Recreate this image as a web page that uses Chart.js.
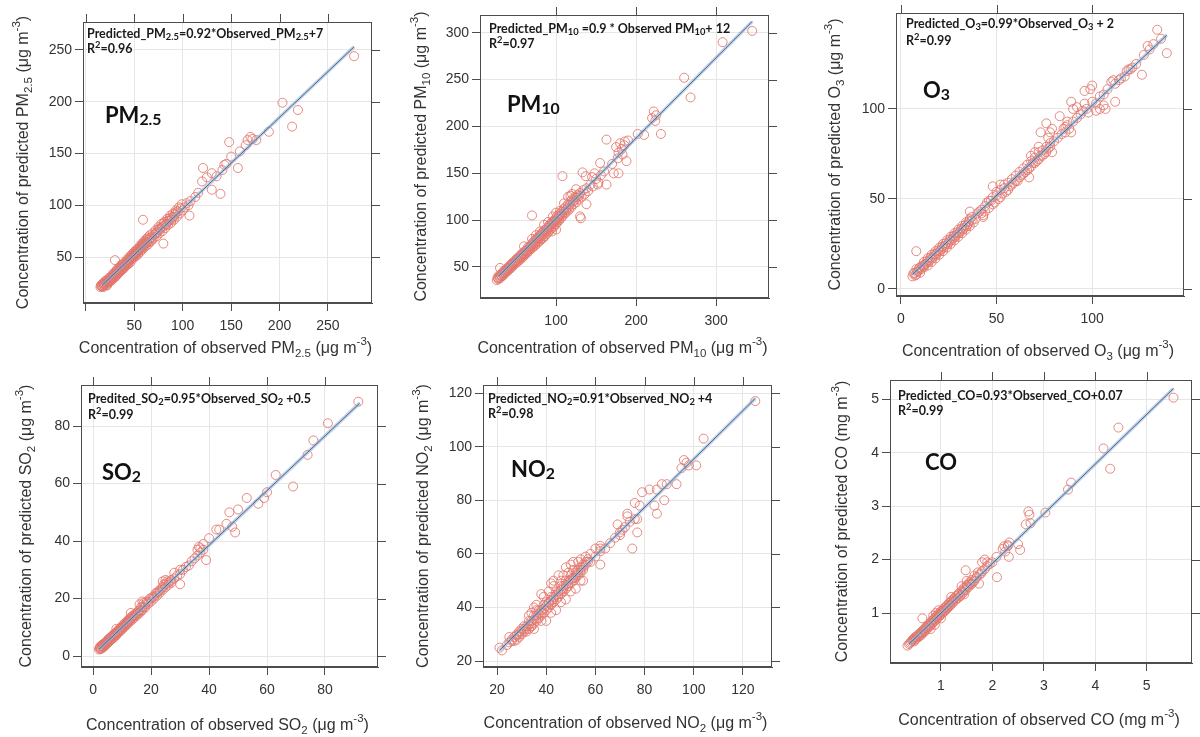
<!DOCTYPE html>
<html>
<head>
<meta charset="utf-8">
<script src="https://cdn.jsdelivr.net/npm/chart.js@4.4.1/dist/chart.umd.min.js"></script>
<style>
  html, body { margin: 0; padding: 0; background: #fff; }
  #wrap { position: relative; width: 1200px; height: 737px; overflow: hidden; }
  canvas { position: absolute; }
</style>
</head>
<body>
<div id="wrap">
  <canvas id="c1" width="400" height="368" style="left:0;top:0"></canvas>
  <canvas id="c2" width="400" height="368" style="left:400px;top:0"></canvas>
  <canvas id="c3" width="400" height="368" style="left:800px;top:0"></canvas>
  <canvas id="c4" width="400" height="369" style="left:0;top:368px"></canvas>
  <canvas id="c5" width="400" height="369" style="left:400px;top:368px"></canvas>
  <canvas id="c6" width="400" height="369" style="left:800px;top:368px"></canvas>
</div>
<script>
// ---- data: [observed, predicted] ----
const pm25Points = [
  [15,21],[16,23],[17,22],[18,24],[18,21],[19,25],[20,23],[20,27],[21,25],[22,27],[22,23],[23,28],[24,26],[24,30],[25,29],[26,31],[26,27],[27,32],[28,30],[28,34],[29,33],[30,35],[30,31],[31,36],[32,34],[32,38],[33,37],[34,39],[34,35],[35,40],[36,37],[36,42],[37,41],[38,43],[38,38],[39,42],[40,45],[40,41],[41,43],[42,47],[42,42],[43,46],[44,49],[44,44],[45,47],[46,51],[46,45],[47,49],[48,53],[48,48],[49,51],[50,55],[50,50],[51,53],[52,57],[52,51],[53,55],[54,58],[54,53],[55,57],[56,61],[56,55],[57,59],[58,63],[58,57],[59,61],[60,65],[60,59],[61,63],[62,67],[62,61],[63,64],[64,69],[64,62],[65,67],[66,71],[67,65],[68,69],[69,73],[70,68],[71,72],[72,76],[73,70],[74,74],[75,79],[76,73],[77,77],[78,82],[79,75],[80,80],[81,84],[82,78],[83,82],[84,87],[85,81],[86,85],[87,90],[88,83],[89,88],[90,92],[91,86],[92,91],[93,95],[94,89],[95,94],[96,98],[97,92],[98,97],[99,101],[100,95],[102,98],[104,102],[106,100],[108,104],
  [15.5,22.5],[16.5,21.5],[17.5,24.5],[18.5,22.5],[19.5,23.5],[20.5,25.5],[21.5,22.5],[21.5,27.5],[22.5,25],[23.5,26],[24.5,28],[25.5,27],[26.5,29.5],[27.5,28.5],[28.5,31.5],[29.5,30],[30.5,33],[31.5,32],[32.5,35.5],[33.5,34],[34.5,37],[35.5,36],[36.5,39.5],[37.5,38],[38.5,40.5],[39.5,39.5],[40.5,43],[41.5,44.5],[42.5,44],[43.5,43],[44.5,46.5],[45.5,49],[46.5,48],[47.5,51],[48.5,50],[49.5,53],[50.5,52],[51.5,55],[52.5,54],[53.5,56.5],[54.5,55.5],[55.5,59],[56.5,58],[57.5,61],[58.5,59.5],[59.5,63],[60.5,62],[61.5,65],[62.5,63.5],[63.5,67],[65.5,64.5],[66.5,68.5],[68.5,67],[70.5,71.5],[72.5,73],[74.5,76.5],[76.5,78],[78.5,78.5],[80.5,82.5],[82.5,81],[84.5,85],[86.5,87.5],[88.5,86],[90.5,89],[92.5,93],
  [277,244],[203,199],[219,192],[213,176],[189,171],[176,163],[167,163],[170,166],[172,164],[148,161],[150,147],[159,152],[157,136],[139,111],[130,115],[121,136],[120,123],[130,131],[135,128],[141,134],[143,139],[107,90],[116,112],[59,86],[80,63],[30,47],[113,108],[125,127],[145,140],[165,158]
];
const pm25Line = [[17,23],[277,253]];
const pm25XTicks = [0,50,100,150,200,250];
const pm25XLabels = ['','50','100','150','200','250'];
const pm25YTicks = [50,100,150,200,250];
const pm25YLabels = ['50','100','150','200','250'];

const pm10Points = [
  [26,36],[27,39],[28,37],[29,41],[30,38],[31,42],[32,40],[33,44],[34,41],[35,46],[36,43],[37,47],[38,45],[39,49],[40,46],[41,50],[42,48],[43,52],[44,49],[45,54],[46,51],[47,55],[48,53],[49,57],[50,54],[51,59],[52,56],[53,60],[54,57],[55,62],[56,59],[57,64],[58,60],[59,65],[60,62],[61,67],[62,64],[63,68],[64,65],[65,71],[66,67],[67,72],[68,69],[69,74],[70,70],[71,76],[72,72],[73,78],[74,73],[75,80],[76,75],[77,81],[78,77],[79,83],[80,78],[81,85],[82,80],[83,87],[84,81],[85,89],[86,83],[87,90],[88,85],[89,92],[90,87],[91,94],[92,89],[93,96],[94,91],[95,98],[96,92],[97,99],[98,94],[99,101],[100,96],[101,104],[102,98],[103,105],[104,100],[105,107],[106,102],[107,109],[108,104],[110,112],[111,107],[112,114],[113,109],[115,117],[116,111],[118,120],[119,114],[120,122],[122,117],[124,125],[125,119],[127,127],[128,122],[130,129],[132,125],[134,132],[136,128],[138,134],[140,131],[143,138],[146,136],[150,144],[153,140],[156,148],[120,128],[115,125],[60,72],[70,80],[85,95],[95,88],[100,90],
  [27.5,38],[29.5,39.5],[31.5,40.5],[33.5,42.5],[35.5,44],[37.5,46],[39.5,47.5],[41.5,49],[43.5,51],[45.5,52.5],[47.5,54],[49.5,56],[51.5,57.5],[53.5,59],[55.5,60.5],[57.5,62],[59.5,63.5],[61.5,65.5],[63.5,67],[65.5,69],[67.5,70.5],[69.5,72.5],[71.5,74],[73.5,75.5],[75.5,77.5],[77.5,79.5],[79.5,81],[81.5,83],[83.5,84.5],[85.5,86.5],[87.5,88],[89.5,90],[91.5,92],[93.5,93.5],[95.5,95.5],[97.5,97.5],[99.5,99],[101.5,101],[103.5,103],[105.5,105],[107.5,106.5],[109.5,108.5],[112.5,111],[114.5,113],[117,116],[121,120],[123,121],[126,124],[129,126],[96,104],[90,98],[105,110],[110,118],[80,88],[75,84],[100,108],[118,126],[125,133],
  [345,302],[308,290],[260,252],[268,231],[222,216],[225,212],[220,209],[224,206],[231,192],[210,191],[202,192],[163,186],[188,163],[178,150],[172,150],[155,161],[108,147],[133,151],[137,147],[163,138],[138,117],[130,104],[131,102],[70,105],[30,49],[175,178],[178,172],[180,182],[182,176],[185,180],[177,166],[183,170],[170,160],[190,185],[186,184],[148,150],[145,146],[160,152],[152,138]
];
const pm10Line = [[28,40],[345,312]];
const pm10XTicks = [100,200,300];
const pm10XLabels = ['100','200','300'];
const pm10YTicks = [50,100,150,200,250,300];
const pm10YLabels = ['50','100','150','200','250','300'];

const o3Points = [
  [6,7],[7,9],[8,8],[8,11],[9,10],[10,12],[10,9],[11,13],[12,12],[12,15],[13,14],[14,13],[14,17],[15,16],[16,15],[16,19],[17,18],[18,17],[18,21],[19,20],[20,19],[20,23],[21,22],[22,21],[22,25],[23,24],[24,23],[24,27],[25,26],[26,25],[26,29],[27,28],[28,27],[28,31],[29,30],[30,29],[30,33],[31,32],[32,31],[32,35],[33,34],[34,33],[34,37],[35,36],[36,35],[36,39],[37,38],[38,37],[40,42],[42,44],[43,41],[44,46],[45,48],[46,45],[47,49],[48,51],[49,48],[50,52],[51,50],[52,55],[53,53],[54,56],[55,54],[56,59],[57,57],[58,61],[59,59],[60,63],[61,60],[62,65],[63,63],[64,67],[65,65],[66,69],[67,67],[68,71],[69,70],[70,73],[71,71],[72,76],[73,74],[74,77],[75,75],[76,79],[77,78],[78,81],[80,82],[82,84],[84,86],[85,89],[86,87],[87,91],[88,89],[90,93],[92,95],[94,97],[95,99],[97,100],[98,98],[100,104],[102,103],[104,107],[106,108],[108,111],[112,114],[115,117],[118,121],[120,122],[123,125],[127,130],[130,133],[132,136],
  [6.5,8.5],[7.5,7.5],[8.5,9.5],[9.5,11.5],[10.5,11],[11.5,12.5],[12.5,13.5],[13.5,15.5],[14.5,15],[15.5,17.5],[16.5,17],[17.5,19.5],[18.5,19],[19.5,21.5],[20.5,21],[21.5,23.5],[22.5,23],[23.5,25.5],[24.5,25],[25.5,27.5],[26.5,27],[27.5,29.5],[28.5,29],[29.5,31.5],[30.5,31],[31.5,33.5],[32.5,33],[33.5,35.5],[34.5,35],[35.5,37.5],[37,40],[39,39],[41,43],[44,43],[46,49],[48,47],[50,54],[52,51],[54,58],[56,55],[58,58],[60,60],[62,62],[64,64],[66,66],[68,68],[70,70],[72,72],[74,74],[76,76],[78,79],[70,76],[72,79],[68,74],
  [134,144],[139,131],[129,135],[136,139],[126,119],[119,122],[121,123],[117,118],[111,116],[110,115],[114,116],[112,104],[106,102],[104,100],[102,99],[107,100],[100,113],[99,111],[96,110],[89,104],[90,100],[92,101],[96,103],[89,87],[83,96],[87,93],[86,90],[76,92],[79,89],[78,87],[73,87],[77,84],[79,76],[67,62],[52,58],[48,57],[42,42],[43,40],[36,43],[8,21]
];
const o3Line = [[6,8],[139,141]];
const o3XTicks = [0,50,100];
const o3XLabels = ['0','50','100'];
const o3YTicks = [0,50,100];
const o3YLabels = ['0','50','100'];

const so2Points = [
  [2,2.3],[2.3,3],[2.6,2.4],[3,3.5],[3.2,2.8],[3.5,4],[3.8,3.3],[4,4.5],[4.3,3.8],[4.6,5],[5,4.5],[5.2,5.8],[5.5,5],[5.8,6.3],[6,5.5],[6.3,6.8],[6.6,6],[7,7.5],[7.3,6.6],[7.6,8],[8,7.3],[8.3,8.6],[8.6,8],[9,9.5],[9.3,8.6],[9.6,10],[10,9.3],[10.3,10.8],[10.6,10],[11,11.5],[11.3,10.6],[11.6,12],[12,11.3],[12.3,12.8],[12.6,12],[13,13.5],[13.3,12.5],[13.6,14],[14,13.2],[14.5,14.8],[15,14],[15.5,15.6],[16,15],[16.5,17],[17,16],[17.5,18.5],[18,17],[18.5,19],[19,18.2],[19.5,20],[20,19],[20.5,20.5],[21,20],[21.5,21.8],[22,21],[22.5,22.5],[23,22],[23.5,23.5],[24,23],[24.5,25],[25,24],[25.5,26],[26,24.8],[26.5,26],[27,25.5],[28,27],[29,28],[30,28.5],[31,30],[32,31],[33,31.5],[34,33],[35,34],[36,35],[37,36],[16,18],[17,19],[24,26],[25,26.5],[13,15],[8,9.5],
  [2.2,2.7],[2.5,3.4],[2.8,2.9],[3.1,3.9],[3.4,3.3],[3.7,4.3],[4.1,3.9],[4.4,4.9],[4.8,4.4],[5.1,5.4],[5.4,6],[5.7,5.4],[6.1,6.4],[6.4,5.9],[6.8,7.2],[7.1,6.9],[7.5,7.6],[7.8,7.3],[8.2,8.3],[8.5,8.3],[8.9,8.9],[9.2,9.1],[9.6,9.4],[10,10.2],[10.4,10.3],[10.8,10.6],[11.2,11.1],[11.6,11.4],[12,12.2],[12.5,12.3],[13,12.9],[13.5,13.4],[14,14],[14.5,14.1],[15,14.9],[15.5,14.8],[16,15.9],[16.5,15.7],[17,17],[17.5,16.9],[18,18],[19,18.8],[20,20],[21,20.8],[22,22],[23,22.8],[24,24],[25,25],[26,25.5],[27,26.5],
  [91.5,88.5],[81,81],[76,75],[74,70],[69,59],[63,63],[60,57],[59,55],[57,53],[53,55],[50,51],[47,50],[48,45],[49,43],[46,46],[43.5,44],[40,41],[39,33.4],[36,37],[38,37],[38,39],[30,25],[30,30],[28,29],[36.5,38],[37,37.5],[42.5,44]
];
const so2Line = [[2,2.4],[92,88]];
const so2XTicks = [0,20,40,60,80];
const so2XLabels = ['0','20','40','60','80'];
const so2YTicks = [0,20,40,60,80];
const so2YLabels = ['0','20','40','60','80'];

const no2Points = [
  [22,24],[24,26],[25,27],[26,27.5],[27,29],[28,28],[28,30],[29,31],[29,29],[30,32],[30,30],[31,33],[31,31],[32,33],[32,31],[33,35],[33,32],[34,35],[34,33],[35,37],[35,34],[36,37],[36,35],[37,39],[37,36],[38,39],[38,37],[39,41],[39,38],[40,42],[40,39],[41,42],[41,40],[42,44],[42,41],[43,44],[43,42],[44,46],[44,43],[45,46],[45,44],[46,48],[46,45],[47,48],[47,46],[48,50],[48,47],[49,50],[49,48],[50,52],[50,49],[51,51],[51,50],[52,53],[52,51],[53,53],[53,52],[54,55],[54,53],[55,55],[55,54],[56,56],[57,57],[58,57],[60,59],[62,61],[64,62],[66,64],[68,66],[70,68],[72,70],[74,72],[38,45],[42,49],[45,52],[48,55],[50,56],[40,35],[44,39],[48,43],[52,47],[55,50],[35,40],[33,37],[46,50],[54,58],[56,59],
  [26,28],[27,27.5],[28,29.5],[29,30],[30,31],[31,32],[32,32],[33,33.5],[34,34],[35,35.5],[36,36],[37,37.5],[38,38],[39,39.5],[40,40.5],[41,41.5],[42,42.5],[43,43],[44,44.5],[45,45],[46,46.5],[47,47],[48,48.5],[49,49],[50,50.5],[51,51],[52,52],[53,54],[54,54],[55,56],[56,57],[57,58],[39,44],[41,46],[43,48],[47,52],[49,53],[51,54],[53,57],[38,35],[42,38],[46,42],[50,46],[54,50],[36,39],[34,38],[58,60],[60,62],
  [125,117],[104,103],[101,93],[96,95],[97,94],[95,92],[98,93],[93,86],[87,86],[89,86],[88,80],[84,78],[85,75],[85,84],[82,84],[79,83],[77,73],[76,73],[76,79],[78,78],[77,68],[75,62],[73,74],[73,75],[69,71],[71,69],[70,67],[62,56],[62,63],[62,62],[51,57],[43,50],[36,41],[35,32],[34,33],[25,29],[21,25]
];
const no2Line = [[21,24],[125,118]];
const no2XTicks = [20,40,60,80,100,120];
const no2XLabels = ['20','40','60','80','100','120'];
const no2YTicks = [20,40,60,80,100,120];
const no2YLabels = ['20','40','60','80','100','120'];

const coPoints = [
  [0.38,0.42],[0.42,0.46],[0.45,0.50],[0.48,0.47],[0.5,0.55],[0.52,0.52],[0.55,0.58],[0.57,0.55],[0.6,0.62],[0.62,0.59],[0.65,0.67],[0.67,0.64],[0.7,0.72],[0.72,0.69],[0.75,0.77],[0.77,0.74],[0.8,0.82],[0.82,0.79],[0.85,0.87],[0.87,0.84],[0.9,0.92],[0.92,0.89],[0.95,0.97],[0.97,0.94],[1.0,1.02],[1.02,0.99],[1.05,1.06],[1.07,1.03],[1.1,1.11],[1.12,1.08],[1.15,1.16],[1.17,1.13],[1.2,1.21],[1.22,1.18],[1.25,1.26],[1.28,1.24],[1.3,1.32],[1.33,1.28],[1.35,1.37],[1.38,1.33],[1.4,1.42],[1.43,1.38],[1.45,1.47],[1.48,1.43],[1.5,1.52],[1.53,1.48],[1.55,1.57],[1.58,1.53],[1.6,1.62],[1.65,1.6],[1.7,1.68],[1.75,1.72],[1.8,1.78],[1.85,1.82],[1.9,1.88],[1.95,1.92],[2.0,1.95],[0.85,0.95],[0.9,1.0],[0.95,1.05],[0.8,0.7],[1.0,0.9],[1.2,1.3],[1.4,1.5],[1.5,1.6],[1.6,1.55],[1.45,1.35],[1.65,1.7],[1.8,1.95],[1.85,2.0],[1.9,1.95],[2.2,2.2],[2.25,2.15],[2.3,2.25],
  [0.4,0.44],[0.44,0.48],[0.47,0.52],[0.5,0.5],[0.53,0.56],[0.56,0.6],[0.58,0.57],[0.61,0.64],[0.63,0.62],[0.66,0.69],[0.68,0.66],[0.71,0.74],[0.73,0.71],[0.76,0.79],[0.78,0.76],[0.81,0.84],[0.83,0.81],[0.86,0.89],[0.88,0.86],[0.91,0.94],[0.93,0.91],[0.96,0.99],[0.98,0.96],[1.01,1.04],[1.03,1.01],[1.06,1.09],[1.08,1.05],[1.11,1.14],[1.13,1.1],[1.16,1.19],[1.18,1.15],[1.21,1.24],[1.24,1.21],[1.27,1.29],[1.3,1.27],[1.34,1.35],[1.37,1.31],[1.42,1.4],[1.46,1.44],[1.51,1.5],[1.56,1.55],[1.62,1.58],[1.68,1.65],[1.72,1.76],[1.78,1.74],
  [5.52,5.03],[4.45,4.47],[4.16,4.08],[4.29,3.70],[3.53,3.44],[3.47,3.31],[3.03,2.88],[2.70,2.90],[2.72,2.84],[2.65,2.66],[2.74,2.68],[2.54,2.18],[2.50,2.29],[2.33,2.32],[2.30,2.27],[2.23,2.25],[2.32,2.05],[2.09,1.67],[2.08,2.05],[1.74,1.55],[1.48,1.80],[0.64,0.90],[0.88,0.78],[0.35,0.39]
];
const coLine = [[0.38,0.42],[5.52,5.2]];
const coXTicks = [1,2,3,4,5];
const coXLabels = ['1','2','3','4','5'];
const coYTicks = [1,2,3,4,5];
const coYLabels = ['1','2','3','4','5'];

// ---- text pieces: [text, 'sub'|'sup'|undefined] ----
const ugUnit = [['(μg m'], ['-3', 'sup'], [')']];
const mgUnit = [['(mg m'], ['-3', 'sup'], [')']];
function titles(name, unit) {
  return {
    x: [['Concentration of observed ']].concat(name, [[' ']], unit),
    y: [['Concentration of predicted ']].concat(name, [[' ']], unit)
  };
}

const panels = [
  { id: 'c1', col: 0, row: 0, box: { l: 83, t: 22, r: 372, b: 303 },
    xMin: -3, xMax: 295.5, yMin: 5.6, yMax: 277,
    points: pm25Points, line: pm25Line,
    xTicks: pm25XTicks, xLabels: pm25XLabels, yTicks: pm25YTicks, yLabels: pm25YLabels,
    name: [['PM'], ['2.5', 'sub']], unit: ugUnit,
    eq: [['Predicted_PM'], ['2.5', 'sub'], ['=0.92*Observed_PM'], ['2.5', 'sub'], ['+7']], r2: '=0.96',
    pos: { eqX: 4, eqY: 16, r2Y: 31, labX: 22, labY: 101, xT: 50, yT: -55 } },
  { id: 'c2', col: 1, row: 0, box: { l: 480, t: 15, r: 769, b: 298 },
    xMin: 5, xMax: 366, yMin: 16.9, yMax: 319,
    points: pm10Points, line: pm10Line,
    xTicks: pm10XTicks, xLabels: pm10XLabels, yTicks: pm10YTicks, yLabels: pm10YLabels,
    name: [['PM'], ['10', 'sub']], unit: ugUnit,
    eq: [['Predicted_PM'], ['10', 'sub'], [' =0.9 * Observed PM'], ['10', 'sub'], ['+ 12']], r2: '=0.97',
    pos: { eqX: 9, eqY: 18, r2Y: 33, labX: 27, labY: 97, xT: 55, yT: -54 } },
  { id: 'c3', col: 2, row: 0, box: { l: 896, t: 13, r: 1184, b: 296 },
    xMin: -2.6, xMax: 148, yMin: -3.9, yMax: 153.3,
    points: o3Points, line: o3Line,
    xTicks: o3XTicks, xLabels: o3XLabels, yTicks: o3YTicks, yLabels: o3YLabels,
    name: [['O'], ['3', 'sub']], unit: ugUnit,
    eq: [['Predicted_O'], ['3', 'sub'], ['=0.99*Observed_O'], ['3', 'sub'], [' + 2']], r2: '=0.99',
    pos: { eqX: 10, eqY: 15, r2Y: 32, labX: 27, labY: 85, xT: 60, yT: -56 } },
  { id: 'c4', col: 0, row: 1, box: { l: 81, t: 385, r: 378, b: 667 },
    xMin: -4.2, xMax: 98.3, yMin: -3.8, yMax: 94.3,
    points: so2Points, line: so2Line,
    xTicks: so2XTicks, xLabels: so2XLabels, yTicks: so2YTicks, yLabels: so2YLabels,
    name: [['SO'], ['2', 'sub']], unit: ugUnit,
    eq: [['Predited_SO'], ['2', 'sub'], ['=0.95*Observed_SO'], ['2', 'sub'], [' +0.5']], r2: '=0.99',
    pos: { eqX: 7, eqY: 18, r2Y: 34, labX: 21, labY: 95, xT: 63, yT: -50 } },
  { id: 'c5', col: 1, row: 1, box: { l: 483, t: 385, r: 772, b: 667 },
    xMin: 14.3, xMax: 131.8, yMin: 17.8, yMax: 123,
    points: no2Points, line: no2Line,
    xTicks: no2XTicks, xLabels: no2XLabels, yTicks: no2YTicks, yLabels: no2YLabels,
    name: [['NO'], ['2', 'sub']], unit: ugUnit,
    eq: [['Predicted_NO'], ['2', 'sub'], ['=0.91*Observed_NO'], ['2', 'sub'], [' +4']], r2: '=0.98',
    pos: { eqX: 5, eqY: 18, r2Y: 33, labX: 28, labY: 92, xT: 61, yT: -55 } },
  { id: 'c6', col: 2, row: 1, box: { l: 890, t: 380, r: 1192, b: 663 },
    xMin: 0.01, xMax: 5.88, yMin: 0.065, yMax: 5.36,
    points: coPoints, line: coLine,
    xTicks: coXTicks, xLabels: coXLabels, yTicks: coYTicks, yLabels: coYLabels,
    name: [['CO']], unit: mgUnit,
    eq: [['Predicted_CO=0.93*Observed_CO+0.07']], r2: '=0.99',
    pos: { eqX: 8, eqY: 20, r2Y: 35, labX: 35, labY: 90, xT: 62, yT: -43 } }
];

const BORDER = '#4d4d4d';
const TEXT = '#333333';

// draws a run of text with sub/superscript pieces
function drawRich(ctx, segs, x, y, size, style) {
  const pieces = segs.map(s => {
    const kind = s[1];
    const sz = kind ? size * style.small : size;
    const dy = kind === 'sub' ? size * style.subShift : kind === 'sup' ? -size * style.supShift : 0;
    ctx.font = style.weight + ' ' + sz + 'px ' + style.family;
    return { text: s[0], font: ctx.font, dy: dy, w: ctx.measureText(s[0]).width };
  });
  const total = pieces.reduce((a, p) => a + p.w, 0);
  let cx = style.align === 'center' ? x - total / 2 : x;
  ctx.textAlign = 'left';
  ctx.textBaseline = 'alphabetic';
  pieces.forEach(p => {
    ctx.font = p.font;
    ctx.fillText(p.text, cx, y + p.dy);
    cx += p.w;
  });
}

const eqStyle = { weight: 'bold', family: 'Lato', small: 0.75, subShift: 0.12, supShift: 0.4, align: 'left' };
const labStyle = { weight: 'bold', family: 'Lato', small: 0.72, subShift: 0.1, supShift: 0.4, align: 'left' };
const titleStyle = { weight: 'normal', family: '"Liberation Sans", Arial', small: 0.72, subShift: 0.22, supShift: 0.5, align: 'center' };

function makeDeco(p) {
  return {
    id: 'deco' + p.id,
    afterDraw(chart) {
      const ctx = chart.ctx, a = chart.chartArea;
      const xs = chart.scales.x, ys = chart.scales.y;
      ctx.save();
      // full box plus mirrored ticks on top and right
      ctx.strokeStyle = BORDER;
      ctx.lineWidth = 1;
      ctx.strokeRect(a.left + 0.5, a.top + 0.5, a.right - a.left - 1, a.bottom - a.top - 1);
      ctx.beginPath();
      p.xTicks.forEach(v => {
        const px = Math.round(xs.getPixelForValue(v)) + 0.5;
        ctx.moveTo(px, a.top);
        ctx.lineTo(px, a.top - 8);
      });
      p.yTicks.forEach(v => {
        const py = Math.round(ys.getPixelForValue(v)) + 0.5;
        ctx.moveTo(a.right, py);
        ctx.lineTo(a.right + 8, py);
      });
      ctx.stroke();

      // equation and R2
      ctx.fillStyle = '#1a1a1a';
      drawRich(ctx, p.eq, a.left + p.pos.eqX, a.top + p.pos.eqY, 12.5, eqStyle);
      drawRich(ctx, [['R'], ['2', 'sup'], [p.r2]], a.left + p.pos.eqX, a.top + p.pos.r2Y, 12.5, eqStyle);
      // big pollutant label
      ctx.fillStyle = '#111';
      drawRich(ctx, p.name, a.left + p.pos.labX, a.top + p.pos.labY, 22, labStyle);

      // axis titles
      const t = titles(p.name, p.unit);
      ctx.fillStyle = TEXT;
      const cx = (a.left + a.right) / 2 - 2;
      drawRich(ctx, t.x, cx, a.bottom + p.pos.xT, 16, titleStyle);
      ctx.translate(a.left + p.pos.yT, (a.top + a.bottom) / 2);
      ctx.rotate(-Math.PI / 2);
      drawRich(ctx, t.y, 0, 0, 16, titleStyle);
      ctx.restore();
    }
  };
}

function makePanel(p) {
  const Y_W = 50, X_H = 30;
  const cl = p.col * 400, ct = p.row * 368, ch = p.row ? 369 : 368;
  const tickFont = { family: '"Liberation Sans", Arial', size: 14 };
  const ctx = document.getElementById(p.id).getContext('2d');
  return new Chart(ctx, {
    type: 'scatter',
    data: {
      datasets: [
        { type: 'line', data: p.line.map(d => ({ x: d[0], y: d[1] })),
          borderColor: '#4a6890', borderWidth: 1, pointRadius: 0, order: 0 },
        { type: 'line', data: p.line.map(d => ({ x: d[0], y: d[1] })),
          borderColor: 'rgba(150,180,215,0.6)', borderWidth: 3.5, pointRadius: 0, order: 1 },
        { data: p.points.map(d => ({ x: d[0], y: d[1] })),
          pointRadius: 4.5, pointBorderWidth: 1,
          pointBorderColor: 'rgba(226,118,108,0.85)', pointBackgroundColor: 'rgba(0,0,0,0)', order: 2 }
      ]
    },
    options: {
      responsive: false,
      animation: false,
      events: [],
      layout: { padding: {
        left: p.box.l - cl - Y_W, top: p.box.t - ct,
        right: cl + 400 - p.box.r, bottom: ct + ch - p.box.b - X_H } },
      plugins: { legend: { display: false }, tooltip: { enabled: false } },
      scales: {
        x: {
          type: 'linear', min: p.xMin, max: p.xMax,
          afterFit: s => { s.height = X_H; },
          afterBuildTicks: s => { s.ticks = p.xTicks.map(v => ({ value: v })); },
          ticks: { callback: (v, i) => p.xLabels[i], color: TEXT, font: tickFont, padding: 7, maxRotation: 0, autoSkip: false },
          grid: { color: '#e6e6e6', tickColor: BORDER, tickLength: 8 },
          border: { color: BORDER }
        },
        y: {
          type: 'linear', min: p.yMin, max: p.yMax,
          afterFit: s => { s.width = Y_W; },
          afterBuildTicks: s => { s.ticks = p.yTicks.map(v => ({ value: v })); },
          ticks: { callback: (v, i) => p.yLabels[i], color: TEXT, font: tickFont, padding: 3, autoSkip: false },
          grid: { color: '#e6e6e6', tickColor: BORDER, tickLength: 8 },
          border: { color: BORDER }
        }
      }
    },
    plugins: [makeDeco(p)]
  });
}

panels.forEach(makePanel);
</script>
</body>
</html>
